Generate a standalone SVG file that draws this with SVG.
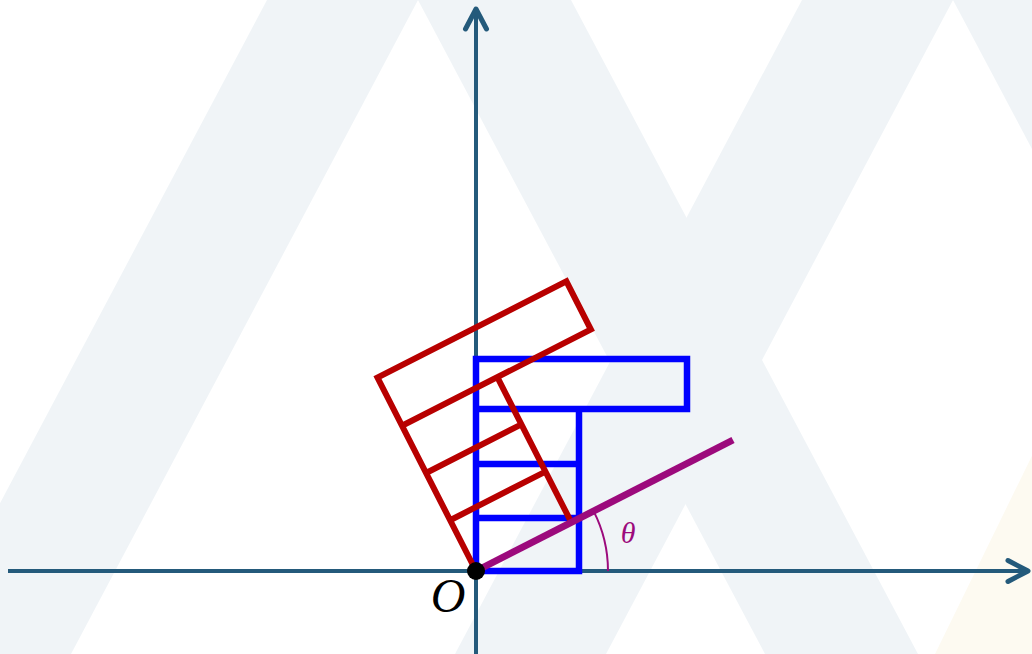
<svg xmlns="http://www.w3.org/2000/svg" width="1032" height="654" viewBox="0 0 1032 654">
  <defs>
    <style>
      .bg { fill: #f0f4f7; stroke: none; }
      .axis { stroke: #245a7b; stroke-width: 4; fill: none; }
      .blue { stroke: #0000ff; stroke-width: 6.5; fill: none; stroke-linecap: square; stroke-linejoin: miter; }
      .red { stroke: #b80000; stroke-width: 6; fill: none; stroke-linecap: butt; stroke-linejoin: miter; }
      .ray { stroke: #9c0a7c; stroke-width: 7; fill: none; }
      .arc { stroke: #9c0a7c; stroke-width: 2; fill: none; }
      .lbl { font-family: "Liberation Serif", "Times New Roman", serif; font-style: italic; }
    </style>
    <marker id="chev" markerUnits="userSpaceOnUse" viewBox="-26 -16 30 32" refX="0" refY="0" markerWidth="30" markerHeight="32" orient="auto" overflow="visible">
      <path d="M -20,-10.5 L 0,0 L -20,10.5" fill="none" stroke="#245a7b" stroke-width="5" stroke-linecap="round" stroke-linejoin="round"/>
    </marker>
  </defs>

  <rect x="0" y="0" width="1032" height="654" fill="#ffffff"/>
  <g id="watermark">
    <polygon class="bg" points="267,0 418,0 71,654 -80,654"/>
    <polygon class="bg" points="418,0 571,0 918,654 765,654"/>
    <polygon class="bg" points="802,0 953,0 606,654 455,654"/>
    <polygon class="bg" points="953,0 1106,0 1453,654 1300,654"/>
    <polygon fill="#fdfaf1" points="1255,0 1400,0 1400,654 935,654"/>
  </g>

  <g id="connectors">
    <line id="x-axis" class="axis" x1="8" y1="571" x2="1028" y2="571" marker-end="url(#chev)"/>
    <line id="y-axis" class="axis" x1="476" y1="654" x2="476" y2="9" marker-end="url(#chev)"/>
  </g>

  <g id="blue-shape">
    <path class="blue" d="M476,571 L476,359 L687,359 L687,409 L476,409 M579,409 L579,571 L476,571 M476,464 L579,464 M476,518 L579,518"/>
  </g>

  <g id="red-shape" transform="rotate(-27 476 571)">
    <path class="red" d="M476,571 L476,354 L688,354 L688,408 L476,408 M583,408 L583,571 M476,461 L583,461 M476,514 L583,514"/>
  </g>

  <g id="ray">
    <line class="ray" x1="476" y1="571" x2="733" y2="440"/>
  </g>

  <g id="angle">
    <path class="arc" d="M608,571 A132,132 0 0 0 593.6,511.1"/>
    <text class="lbl" x="628" y="543" font-size="30" fill="#9c0a7c" text-anchor="middle">θ</text>
  </g>

  <g id="origin">
    <circle cx="476" cy="571" r="9" fill="#000000"/>
    <text class="lbl" x="448" y="612" font-size="48" fill="#000000" text-anchor="middle">O</text>
  </g>
</svg>
